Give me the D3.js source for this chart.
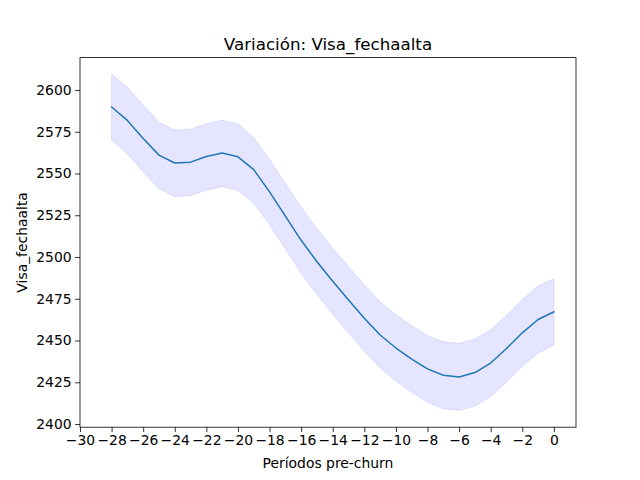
<!DOCTYPE html>
<html>
<head>
<meta charset="utf-8">
<script src="https://d3js.org/d3.v7.min.js"></script>
<style>
  body { margin: 0; background: white; }
  text { font-family: "DejaVu Sans", sans-serif; fill: black; }
</style>
</head>
<body>
<svg width="640" height="480"></svg>
<script>
// periods before churn
const periods = [-28,-27,-26,-25,-24,-23,-22,-21,-20,-19,-18,-17,-16,-15,-14,-13,-12,-11,-10,-9,-8,-7,-6,-5,-4,-3,-2,-1,0]
// mean value per period
const meanVals = [2589.8,2581.8,2571.0,2561.0,2556.3,2556.8,2560.2,2562.3,2560.0,2552.3,2539.0,2524.5,2510.0,2497.2,2485.5,2474.2,2463.3,2453.3,2445.5,2438.8,2433.0,2429.2,2428.2,2430.8,2436.5,2445.2,2454.6,2462.6,2467.2]
// confidence band
const upperVals = [2609.4,2601.6,2591.0,2580.6,2576.1,2576.5,2579.8,2581.9,2579.7,2571.5,2558.2,2543.8,2529.6,2517.0,2505.3,2494.1,2483.2,2473.2,2465.4,2458.8,2453.0,2449.2,2448.3,2450.8,2456.4,2465.1,2474.6,2482.6,2487.0]
const lowerVals = [2569.8,2561.8,2551.0,2541.0,2536.2,2536.8,2540.0,2542.2,2539.9,2532.2,2519.4,2505.0,2490.4,2477.6,2465.8,2454.6,2443.6,2433.6,2425.7,2419.0,2413.0,2409.2,2408.2,2410.8,2416.5,2425.2,2434.6,2442.6,2447.3]
const xTicks = d3.range(-30, 1, 2)
const yTicks = [2400,2425,2450,2475,2500,2525,2550,2575,2600]

const data = periods.map((p, i) => ({p: p, m: meanVals[i], lo: lowerVals[i], hi: upperVals[i]}))

const svg = d3.select("svg")
const mLeft = 80, mRight = 576, mTop = 57.6, mBottom = 427.2

const x = d3.scaleLinear().domain([-30, 1.4]).range([mLeft, mRight])
const y = d3.scaleLinear().domain([2398.1, 2619.4]).range([mBottom, mTop])

// band
svg.append("path")
  .datum(data)
  .attr("d", d3.area().x(d => x(d.p)).y0(d => y(d.lo)).y1(d => y(d.hi)))
  .attr("fill", "rgba(0,0,255,0.1)")
  .attr("stroke", "rgba(0,0,255,0.1)")
  .attr("stroke-width", 1)

// mean line
svg.append("path")
  .datum(data)
  .attr("d", d3.line().x(d => x(d.p)).y(d => y(d.m)))
  .attr("fill", "none")
  .attr("stroke", "#1f77b4")
  .attr("stroke-width", 1.5)
  .attr("stroke-linejoin", "round")
  .attr("stroke-linecap", "square")

const fmtMinus = d => String(d).replace("-", "\u2212")

// axes
const xAxis = svg.append("g")
  .attr("transform", "translate(0," + mBottom + ")")
  .call(d3.axisBottom(x).tickValues(xTicks).tickFormat(fmtMinus).tickSize(4.9).tickPadding(3.5))
const yAxis = svg.append("g")
  .attr("transform", "translate(" + mLeft + ",0)")
  .call(d3.axisLeft(y).tickValues(yTicks).tickFormat(d3.format("d")).tickSize(4.9).tickPadding(3.5))

for (const g of [xAxis, yAxis]) {
  g.select(".domain").remove()
  g.selectAll("line").attr("stroke", "black").attr("stroke-width", 0.8)
  g.selectAll("text").style("font-family", "DejaVu Sans").style("font-size", "13.9px").attr("fill", "black")
}

// frame
svg.append("rect")
  .attr("x", mLeft).attr("y", mTop)
  .attr("width", mRight - mLeft).attr("height", mBottom - mTop)
  .attr("fill", "none").attr("stroke", "black").attr("stroke-width", 0.8)

svg.append("text")
  .attr("x", (mLeft + mRight) / 2).attr("y", 50)
  .attr("text-anchor", "middle")
  .style("font-size", "16.7px")
  .text("Variación: Visa_fechaalta")

svg.append("text")
  .attr("x", (mLeft + mRight) / 2).attr("y", 468)
  .attr("text-anchor", "middle")
  .style("font-size", "13.9px")
  .text("Períodos pre-churn")

svg.append("text")
  .attr("transform", "translate(27," + (mTop + mBottom) / 2 + ") rotate(-90)")
  .attr("text-anchor", "middle")
  .style("font-size", "13.9px")
  .text("Visa_fechaalta")
</script>
</body>
</html>
